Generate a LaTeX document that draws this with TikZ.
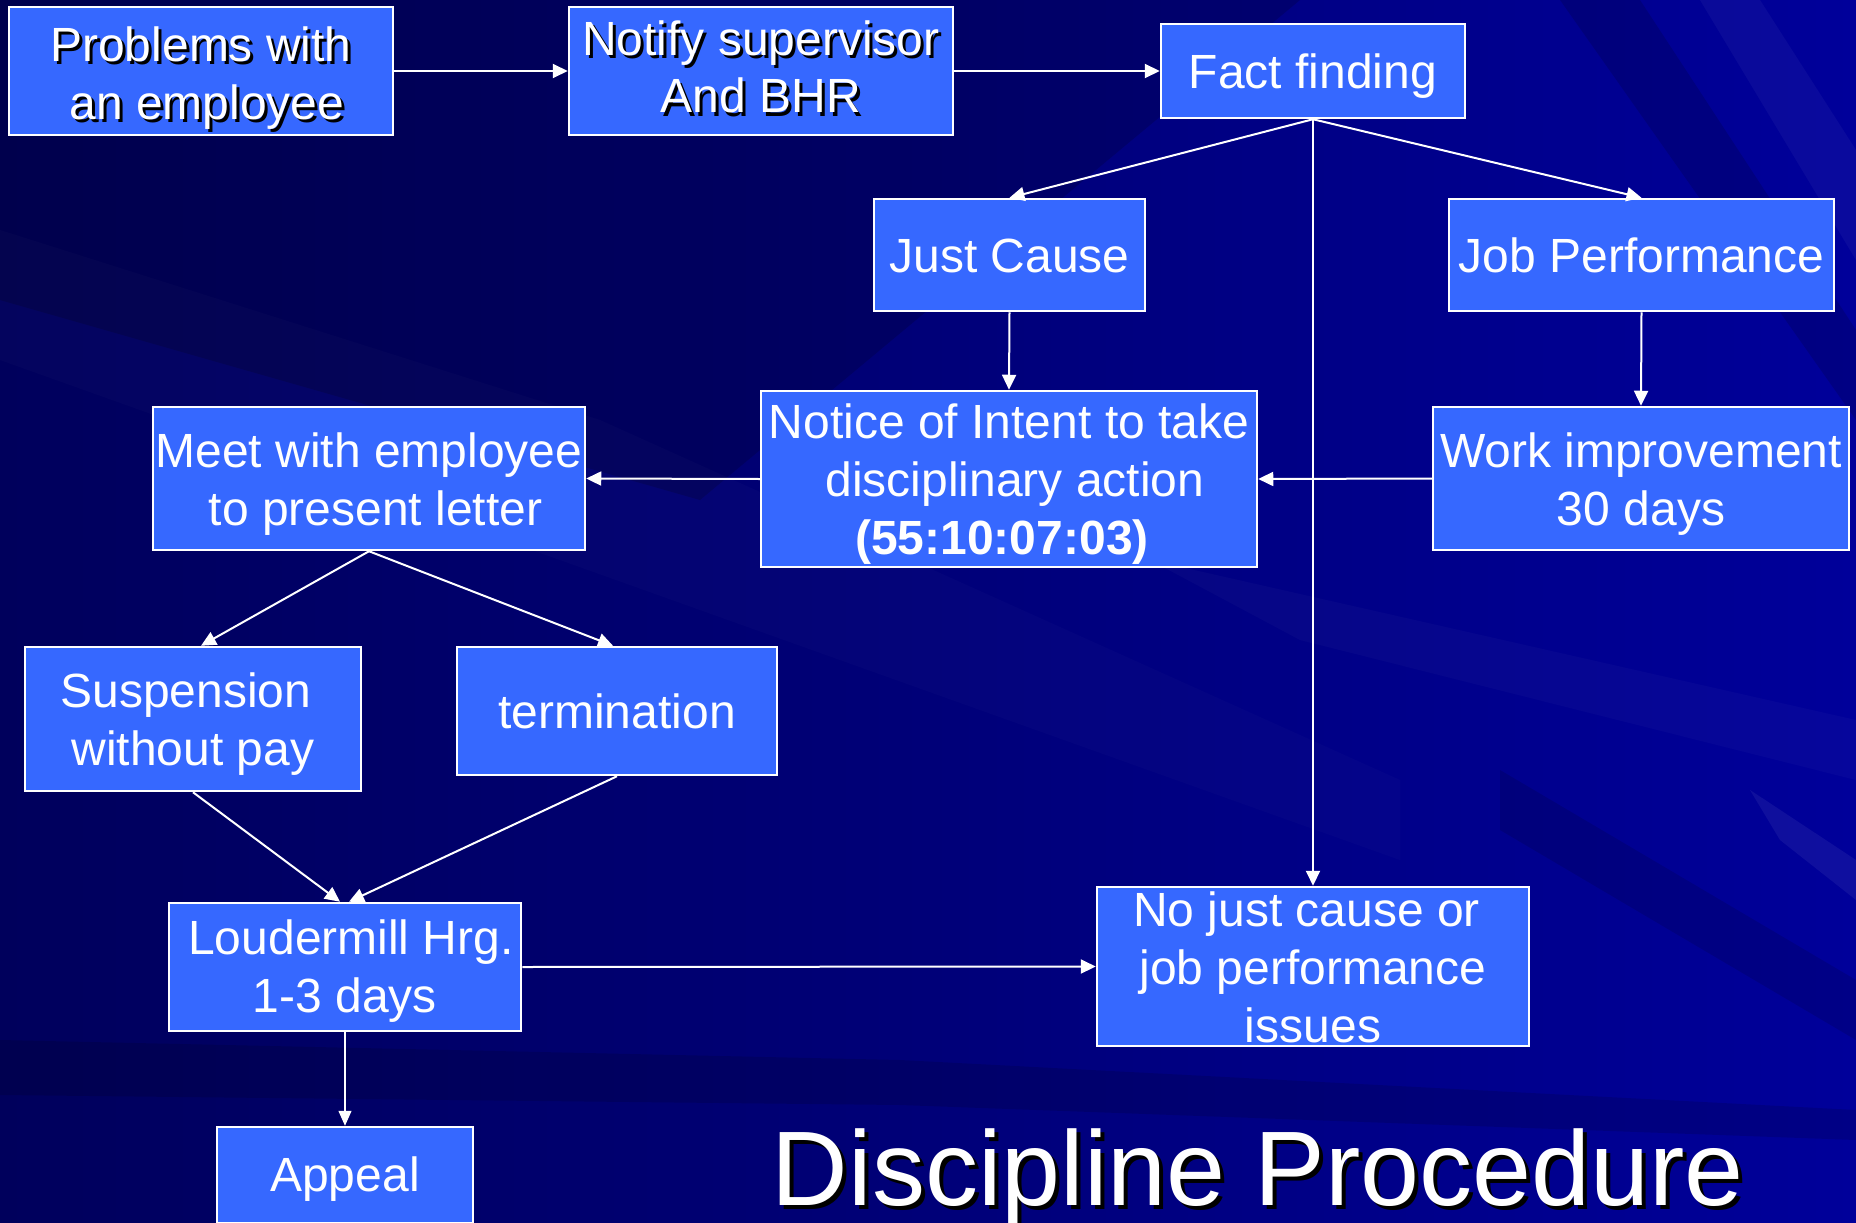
\documentclass[tikz,border=0pt]{standalone}
\usepackage{fontspec}
\setmainfont{Liberation Sans}
\usetikzlibrary{arrows.meta,calc}
\definecolor{boxblue}{HTML}{3668FF}
\definecolor{bgdark}{HTML}{00005C}
\definecolor{bgmid}{HTML}{000078}
\definecolor{bgright}{HTML}{00009A}
\begin{document}
\begin{tikzpicture}[x=1pt,y=-1pt,
  boxnode/.style={draw=white, line width=2.5pt, fill=boxblue, text=white, align=center,
    inner sep=0pt, font=\fontsize{48}{58}\selectfont},
  below/.style={text height=#1, text depth=0pt},
  shadowed/.style 2 args={path picture={\node[text=black, align=center, inner sep=0pt,
    font=\fontsize{48}{58}\selectfont, text height=#2, text depth=0pt, xshift=3pt, yshift=-3pt]
    at (path picture bounding box.center) {#1};}},
  conn/.style={draw=white, line width=2pt, -{Triangle[length=15pt,width=14pt]}},
  thinconn/.style={draw=white, line width=1.3pt, -{Triangle[length=15pt,width=13pt]}}
]
% background
\useasboundingbox (0,0) rectangle (1856,1223);
\shade[left color=bgdark, right color=bgright, middle color=bgmid] (0,0) rectangle (1856,1223);
\begin{scope}
\clip (0,0) rectangle (1856,1223);
\fill[black, opacity=0.16] (0,0) -- (1300,0) -- (700,500) -- (0,300) -- cycle;
\fill[white, opacity=0.015] (0,230) -- (600,420) -- (1400,780) -- (1400,860) -- (0,360) -- cycle;
\fill[black, opacity=0.13] (0,1040) -- (900,1060) -- (1856,1110) -- (1856,1140) -- (900,1105) -- (0,1095) -- cycle;
\fill[black, opacity=0.14] (1560,0) -- (1640,0) -- (1856,330) -- (1856,420) -- cycle;
\fill[white, opacity=0.04] (1700,0) -- (1760,0) -- (1856,150) -- (1856,260) -- cycle;
\fill[white, opacity=0.06] (1750,790) -- (1856,860) -- (1856,900) -- (1780,840) -- cycle;
\fill[black, opacity=0.12] (1500,770) -- (1856,980) -- (1856,1040) -- (1500,830) -- cycle;
\fill[white, opacity=0.025] (1150,560) -- (1856,720) -- (1856,780) -- (1300,640) -- cycle;
\end{scope}

% boxes
\node[boxnode, below=96pt, minimum width=384pt, minimum height=128pt,
  shadowed={Problems with\\\hspace*{12pt}an employee}{96pt}] (prob) at (201,71)
  {Problems with\\\hspace*{12pt}an employee};
\node[boxnode, below=84pt, minimum width=384pt, minimum height=128pt,
  shadowed={Notify supervisor\\And BHR}{84pt}] (notify) at (761,71) {Notify supervisor\\And BHR};
\node[boxnode, below=35.6pt, minimum width=304pt, minimum height=94pt] (fact) at (1313,71) {Fact finding};
\node[boxnode, below=35.6pt, minimum width=271pt, minimum height=112pt] (just) at (1009.5,255) {Just Cause};
\node[boxnode, below=35.6pt, minimum width=385pt, minimum height=112pt] (jobp) at (1641.5,255) {Job Performance};
\node[boxnode, below=151.2pt, minimum width=496pt, minimum height=176pt] (notice) at (1009,479)
  {Notice of Intent to take\\\hspace*{12pt}disciplinary action\\\textbf{(55:10:07:03)}\hspace*{14pt}};
\node[boxnode, below=93pt, minimum width=416pt, minimum height=143pt] (work) at (1641,478.5)
  {Work improvement\\30 days};
\node[boxnode, below=93pt, minimum width=432pt, minimum height=143pt] (meet) at (369,478.5)
  {Meet with employee\\\hspace*{13pt}to present letter};
\node[boxnode, below=92.6pt, minimum width=336pt, minimum height=144pt] (susp) at (193,719)
  {Suspension\hspace*{14pt}\\without pay};
\node[boxnode, below=35.2pt, minimum width=320pt, minimum height=128pt] (term) at (617,711) {termination};
\node[boxnode, below=91.4pt, minimum width=352pt, minimum height=128pt] (loud) at (345,967)
  {\hspace*{12pt}Loudermill Hrg.\\1-3 days};
\node[boxnode, below=151.4pt, minimum width=432pt, minimum height=159pt] (nojc) at (1313,966.5)
  {No just cause or\hspace*{13pt}\\job performance\\issues};
\node[boxnode, below=32.8pt, minimum width=256pt, minimum height=96pt] (appeal) at (345,1175) {Appeal};

% title
\node[text=black, font=\fontsize{106}{120}\selectfont, anchor=base, inner sep=0pt]
  at (1262,1209) {Discipline Procedure};
\node[text=white, font=\fontsize{106}{120}\selectfont, anchor=base, inner sep=0pt]
  (title) at (1258,1205) {Discipline Procedure};

% connectors
\draw[conn] (prob.east) -- (notify.west);
\draw[conn] (notify.east) -- (fact.west);
\draw[conn] (fact.south) -- (just.north);
\draw[conn] (fact.south) -- (jobp.north);
\draw[conn] (fact.south) -- (nojc.north);
\draw[conn] (just.south) -- (notice.north);
\draw[conn] (jobp.south) -- (work.north);
\draw[conn] (work.west) -- (notice.east);
\draw[conn] (notice.west) -- (meet.east);
\draw[conn] (meet.south) -- ([xshift=8pt]susp.north);
\draw[conn] (meet.south) -- ([xshift=-4pt]term.north);
\draw[conn] (susp.south) -- ([xshift=-5pt]loud.north);
\draw[conn] (term.south) -- ([xshift=4pt]loud.north);
\draw[conn] (loud.east) -- (nojc.west);
\draw[thinconn] (loud.south) -- (appeal.north);
\end{tikzpicture}
\end{document}
